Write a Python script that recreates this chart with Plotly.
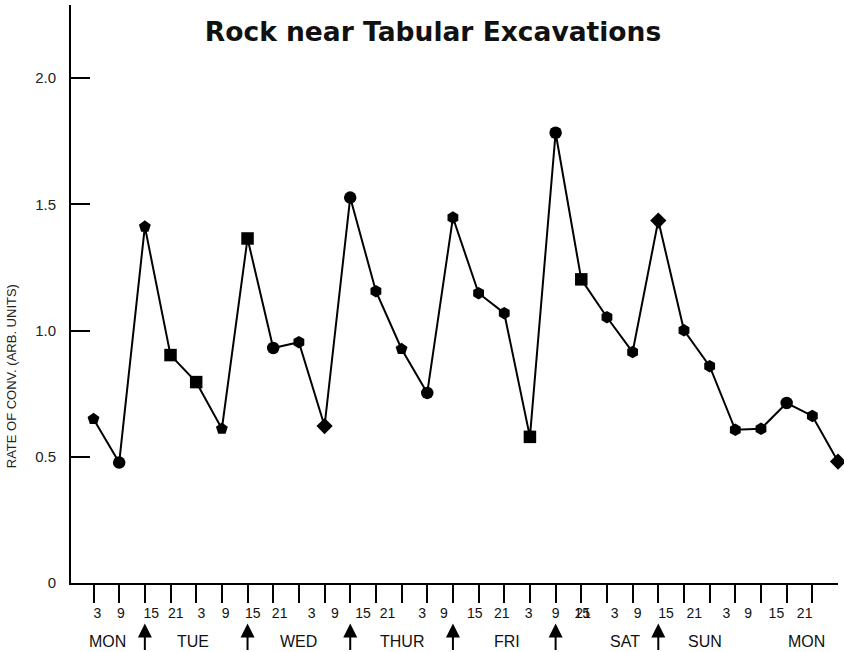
import plotly.graph_objects as go

# ---- data ----
hours = [3, 9, 15, 21, 27, 33, 39, 45, 51, 57, 63, 69, 75, 81, 87, 93, 99, 105,
         111, 117, 123, 129, 135, 141, 147, 153, 159, 165, 171, 177]
rate = [0.65, 0.477, 1.412, 0.903, 0.796, 0.611, 1.365, 0.931, 0.954, 0.622,
        1.527, 1.156, 0.927, 0.753, 1.448, 1.148, 1.069, 0.579, 1.784, 1.203,
        1.053, 0.915, 1.436, 1.001, 0.859, 0.607, 0.611, 0.713, 0.662, 0.481]

tick_hours = hours[:-1]
hour_labels = ["3", "9", "15", "21", "3", "9", "15", "21", "3", "9", "15", "21",
               "3", "9", "15", "21", "3", "9", "15", "21", "3", "9", "15", "21",
               "3", "9", "15", "21"]
hour_label_pos = [3.9, 9.4, 16.5, 22.2, 28.2, 33.9, 40.2, 46.5, 54, 59.4, 66, 71.7,
                  79.8, 84.9, 92.1, 98.4, 104.7, 111, 117.2, 117.4, 124.8, 130.2,
                  136.8, 143.4, 150.9, 156, 162.6, 169.2]
day_labels = ["MON", "TUE", "WED", "THUR", "FRI", "SAT", "SUN", "MON"]
day_label_pos = [6.2, 26.3, 50.8, 75, 99.6, 127.2, 145.9, 169.6]
blast_hours = [15, 39, 63, 87, 111, 135]

y_ticks = [0, 0.5, 1.0, 1.5, 2.0]
y_tick_text = ["0", "0.5", "1.0", "1.5", "2.0"]

# ---- style ----
symbols = ["pentagon", "circle", "pentagon", "square", "square", "pentagon",
           "square", "circle", "hexagon", "diamond", "circle", "hexagon",
           "pentagon", "circle", "hexagon", "hexagon", "hexagon", "square",
           "circle", "square", "hexagon", "hexagon", "diamond", "hexagon",
           "hexagon", "hexagon", "hexagon", "circle", "hexagon", "diamond"]

FONT = "Liberation Sans, Arial, Helvetica, sans-serif"
TITLE_FONT = "DejaVu Sans, Liberation Sans, Arial, sans-serif"
X_RANGE = [-2.26, 177]
Y_RANGE = [0, 2.29]

fig = go.Figure()
fig.add_trace(go.Scatter(
    x=hours, y=rate, mode="lines+markers",
    line=dict(color="black", width=2),
    marker=dict(color="black", size=12.5, symbol=symbols),
    cliponaxis=False, showlegend=False, hoverinfo="x+y",
))
# invisible trace on the label axis
fig.add_trace(go.Scatter(x=[hours[0]], y=[rate[0]], xaxis="x2", mode="markers",
                         marker=dict(opacity=0), showlegend=False, hoverinfo="skip"))

annotations = []
for lab, pos in zip(day_labels, day_label_pos):
    annotations.append(dict(text=lab, x=pos, xref="x", y=-0.102, yref="paper",
                            showarrow=False, xanchor="center", yanchor="middle",
                            font=dict(family=FONT, size=16, color="#111")))
for h in blast_hours:
    annotations.append(dict(text="", x=h, xref="x", y=-0.070, yref="paper",
                            showarrow=True, ax=0, ay=28, axref="pixel", ayref="pixel",
                            arrowhead=2, arrowsize=1.4, arrowwidth=2, arrowcolor="black"))
annotations.append(dict(text="RATE OF CONV. (ARB. UNITS)", textangle=-90,
                        x=-0.078, xref="paper", y=0.358, yref="paper",
                        showarrow=False, xanchor="center", yanchor="middle",
                        font=dict(family=FONT, size=13, color="#222")))

fig.update_layout(
    width=844, height=652,
    margin=dict(l=71, r=6, t=5, b=69),
    paper_bgcolor="white", plot_bgcolor="white",
    title=dict(text="<b>Rock near Tabular Excavations</b>", x=0.472, xref="paper",
               y=1 - 32 / 652, yref="container", xanchor="center", yanchor="middle",
               font=dict(family=TITLE_FONT, size=26.5, color="#111")),
    xaxis=dict(range=X_RANGE, showgrid=False, zeroline=False,
               showline=True, linecolor="black", linewidth=2,
               tickmode="array", tickvals=tick_hours, showticklabels=False,
               ticks="outside", ticklen=18, tickwidth=2, tickcolor="black"),
    xaxis2=dict(range=X_RANGE, overlaying="x", side="bottom", showgrid=False,
                zeroline=False, showline=False,
                tickmode="array", tickvals=hour_label_pos, ticktext=hour_labels,
                tickangle=0, ticks="outside", ticklen=17, tickcolor="rgba(0,0,0,0)",
                tickfont=dict(family=FONT, size=14, color="#111")),
    yaxis=dict(range=Y_RANGE, showgrid=False, zeroline=False,
               showline=True, linecolor="black", linewidth=2,
               tickmode="array", tickvals=y_ticks, ticktext=y_tick_text,
               ticks="inside", ticklen=19, tickwidth=2, tickcolor="black",
               ticklabelstandoff=10,
               tickfont=dict(family=FONT, size=15, color="#222")),
    annotations=annotations,
)

fig.write_html("out.html")
